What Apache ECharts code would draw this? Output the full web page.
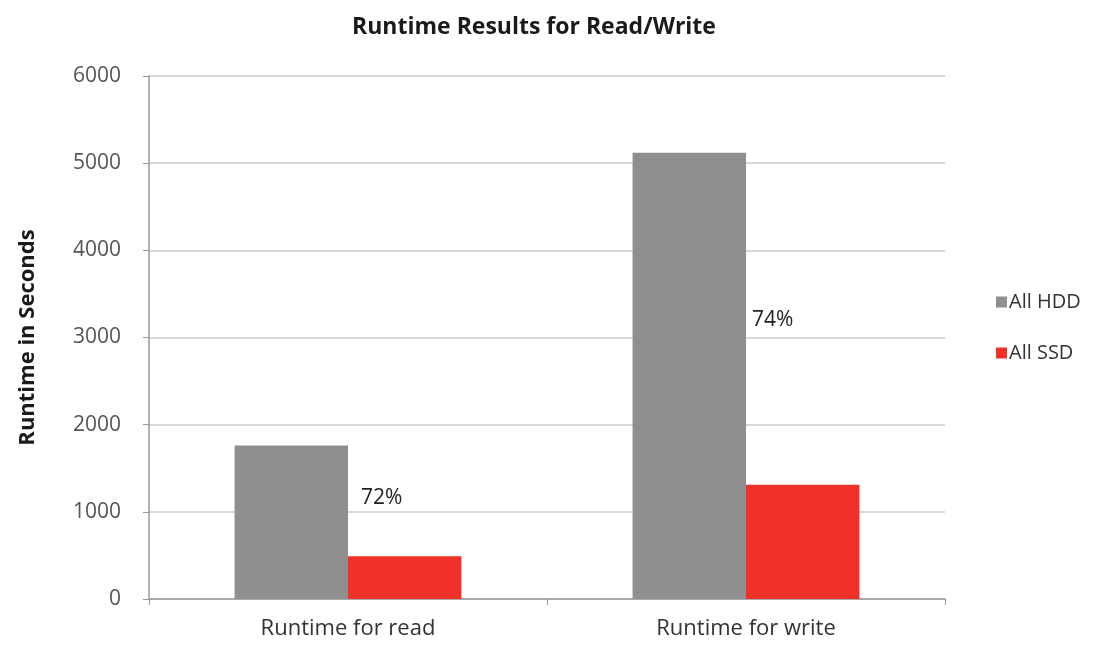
<!DOCTYPE html>
<html>
<head>
<meta charset="utf-8">
<title>Runtime Results for Read/Write</title>
<script src="https://cdn.jsdelivr.net/npm/echarts@6/dist/echarts.min.js"></script>
<style>
  html, body { margin: 0; padding: 0; background: #ffffff; }
  #chart { width: 1099px; height: 648px; }
</style>
</head>
<body>
<div id="chart"></div>
<script>
// Runtime (seconds) for read and write workloads, HDD vs SSD storage
const categories = ['Runtime for read', 'Runtime for write'];
const seriesNames = ['All HDD', 'All SSD'];
const hddRuntime = [1760, 5120];
const ssdRuntime = [490, 1310];
const yTicks = [0, 1000, 2000, 3000, 4000, 5000, 6000];

// Percentage reduction in runtime when moving from HDD to SSD
const reduction = hddRuntime.map((h, i) => Math.round((1 - ssdRuntime[i] / h) * 100));

// Placement of the reduction note next to each HDD bar
const notePlacement = [
  { position: ['100%', '34%'], offset: [13, 0] },
  { position: ['100%', '37.5%'], offset: [6, 0] }
];

const FONT = '"Open Sans", "Noto Sans", sans-serif';

const chart = echarts.init(document.getElementById('chart'), null, { renderer: 'canvas' });

chart.setOption({
  animation: false,
  backgroundColor: '#ffffff',
  textStyle: { fontFamily: FONT },
  title: {
    text: 'Runtime Results for Read/Write',
    left: 529,
    top: 11,
    textAlign: 'center',
    textStyle: { fontFamily: FONT, fontSize: 23, fontWeight: 'bold', color: '#1a1a1a' }
  },
  legend: {
    orient: 'vertical',
    left: 991,
    top: 287,
    itemWidth: 11,
    itemHeight: 11,
    itemGap: 31,
    icon: 'rect',
    data: seriesNames,
    textStyle: { fontFamily: FONT, fontSize: 20, color: '#333333', padding: [0, 0, 0, -3] }
  },
  grid: {
    left: 149,
    right: 154,
    top: 76,
    bottom: 49,
    containLabel: false
  },
  xAxis: {
    type: 'category',
    data: categories,
    axisLine: { lineStyle: { color: '#9a9a9a', width: 1.5 } },
    axisTick: { show: true, length: 6, lineStyle: { color: '#9a9a9a' } },
    axisLabel: { fontFamily: FONT, fontSize: 22, color: '#333333', margin: 19 }
  },
  yAxis: {
    type: 'value',
    min: yTicks[0],
    max: yTicks[yTicks.length - 1],
    interval: yTicks[1] - yTicks[0],
    name: 'Runtime in Seconds',
    nameLocation: 'middle',
    nameRotate: 90,
    nameGap: 110,
    nameTextStyle: { fontFamily: FONT, fontSize: 22, fontWeight: 'bold', color: '#1a1a1a' },
    axisLine: { show: true, lineStyle: { color: '#9a9a9a', width: 1.5 } },
    axisTick: { show: true, length: 6, lineStyle: { color: '#9a9a9a' } },
    axisLabel: {
      fontFamily: FONT, fontSize: 21, color: '#555555', margin: 28,
      formatter: v => String(v)
    },
    splitLine: { lineStyle: { color: '#cccccc', width: 1.5 } }
  },
  series: [
    {
      name: seriesNames[0],
      type: 'bar',
      barGap: '0%',
      barCategoryGap: '43%',
      itemStyle: { color: '#8f8f8f' },
      data: hddRuntime.map((v, i) => ({
        value: v,
        label: {
          show: true,
          position: notePlacement[i].position,
          offset: notePlacement[i].offset,
          align: 'left',
          verticalAlign: 'middle',
          formatter: reduction[i] + '%',
          fontFamily: FONT,
          fontSize: 21,
          color: '#222222'
        }
      }))
    },
    {
      name: seriesNames[1],
      type: 'bar',
      itemStyle: { color: '#ef3129' },
      data: ssdRuntime
    }
  ]
});
</script>
</body>
</html>
